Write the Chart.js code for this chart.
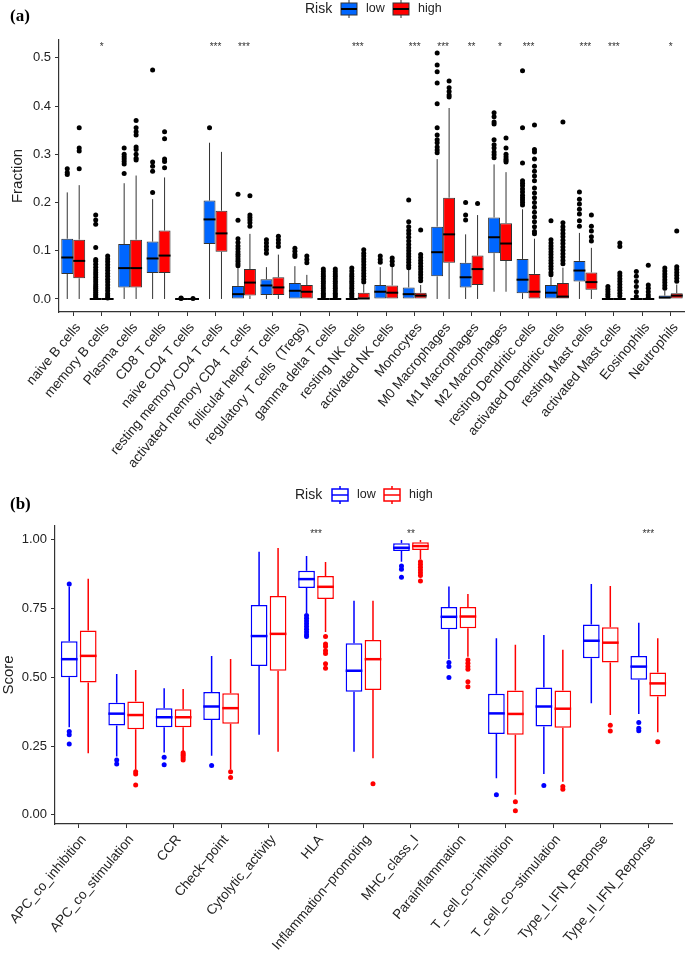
<!DOCTYPE html>
<html>
<head>
<meta charset="utf-8">
<script src="https://cdn.jsdelivr.net/npm/chart.js@4.4.1/dist/chart.umd.min.js"></script>
<style>
  body { margin: 0; background: #fff; width: 685px; height: 954px; position: relative; overflow: hidden; }
  .panel { position: absolute; left: 0; width: 685px; height: 476px; }
</style>
</head>
<body>
<div class="panel" style="top:0"><canvas id="chartA" width="685" height="476"></canvas></div>
<div class="panel" style="top:478px"><canvas id="chartB" width="685" height="476"></canvas></div>
<script>
// ---------- panel (a): immune cell fractions ----------
const cellTypes = ['naive B cells', 'memory B cells', 'Plasma cells', 'CD8 T cells', 'naive CD4 T cells',
  'resting memory CD4 T cells', 'activated memory CD4  T cells', 'follicular helper T cells',
  'regulatory T cells  (Tregs)', 'gamma delta T cells', 'resting NK cells', 'activated NK cells',
  'Monocytes', 'M0 Macrophages', 'M1 Macrophages', 'M2 Macrophages', 'resting Dendritic cells',
  'activated Dendritic cells', 'resting Mast cells', 'activated Mast cells', 'Eosinophils', 'Neutrophils'];

// [min, q1, median, q3, max]
const cellLow = [
  [0, 0.052, 0.086, 0.125, 0.221], [0, 0, 0, 0, 0], [0, 0.024, 0.064, 0.114, 0.24], [0, 0.054, 0.084, 0.119, 0.207],
  [0, 0, 0, 0, 0], [0, 0.114, 0.165, 0.204, 0.324], [0, 0, 0.010, 0.027, 0.064], [0, 0.008, 0.028, 0.041, 0.066],
  [0, 0, 0.017, 0.033, 0.068], [0, 0, 0, 0, 0], [0, 0, 0, 0, 0], [0, 0, 0.015, 0.029, 0.066],
  [0, 0, 0.010, 0.024, 0.06], [0, 0.047, 0.097, 0.15, 0.29], [0, 0.024, 0.045, 0.075, 0.134], [0.015, 0.095, 0.128, 0.169, 0.279],
  [0, 0.012, 0.04, 0.083, 0.186], [0, 0, 0.013, 0.029, 0.045], [0, 0.036, 0.059, 0.079, 0.137], [0, 0, 0, 0, 0],
  [0, 0, 0, 0, 0], [0, 0, 0.003, 0.007, 0.017]
];
const cellHigh = [
  [0, 0.043, 0.079, 0.123, 0.236], [0, 0, 0, 0, 0], [0, 0.024, 0.064, 0.123, 0.256], [0, 0.054, 0.09, 0.142, 0.252],
  [0, 0, 0, 0, 0], [0, 0.098, 0.136, 0.183, 0.305], [0, 0.007, 0.034, 0.062, 0.135], [0, 0.008, 0.024, 0.045, 0.092],
  [0, 0, 0.015, 0.029, 0.05], [0, 0, 0, 0, 0], [0, 0, 0.001, 0.013, 0.03], [0, 0, 0.013, 0.028, 0.068],
  [0, 0, 0.007, 0.013, 0.029], [0, 0.075, 0.134, 0.21, 0.396], [0, 0.029, 0.062, 0.09, 0.174], [0.015, 0.079, 0.115, 0.157, 0.263],
  [0, 0, 0.015, 0.052, 0.125], [0, 0, 0.005, 0.033, 0.065], [0, 0.019, 0.035, 0.055, 0.106], [0, 0, 0, 0, 0],
  [0, 0, 0, 0, 0], [0, 0, 0.007, 0.012, 0.03]
];
const cellLowOut = [
  [0.27, 0.262, 0.258],
  [0.174, 0.164, 0.155, 0.107, 0.082, 0.078, 0.072, 0.066, 0.06, 0.055, 0.05, 0.045, 0.04, 0.035, 0.03, 0.026, 0.022, 0.018, 0.014, 0.01, 0.006, 0.003],
  [0.313, 0.30, 0.295, 0.29, 0.285, 0.28, 0.26],
  [0.475, 0.284, 0.275, 0.265, 0.221],
  [0.001, 0.002],
  [0.355],
  [0.217, 0.163, 0.125, 0.117, 0.11, 0.104, 0.098, 0.093, 0.088, 0.083, 0.078, 0.073, 0.069],
  [0.123, 0.116, 0.109, 0.102, 0.095],
  [0.105, 0.099, 0.092, 0.088],
  [0.062, 0.057, 0.052, 0.047, 0.042, 0.037, 0.032, 0.027, 0.022, 0.017, 0.012, 0.008, 0.004],
  [0.064, 0.058, 0.052, 0.047, 0.042, 0.037, 0.032, 0.027, 0.022, 0.017, 0.012, 0.008, 0.004],
  [0.089, 0.082, 0.076],
  [0.205, 0.16, 0.15, 0.142, 0.135, 0.128, 0.12, 0.113, 0.106, 0.1, 0.094, 0.088, 0.082, 0.076, 0.07, 0.065],
  [0.51, 0.485, 0.471, 0.448, 0.405, 0.355, 0.34, 0.33, 0.324, 0.315, 0.309, 0.303],
  [0.2, 0.174, 0.164],
  [0.386, 0.378, 0.367, 0.363, 0.33, 0.32, 0.313, 0.305, 0.299, 0.293],
  [0.473, 0.355, 0.282, 0.245, 0.24, 0.235, 0.228, 0.222, 0.215, 0.21, 0.205, 0.2, 0.195],
  [0.162, 0.123, 0.116, 0.11, 0.104, 0.098, 0.092, 0.086, 0.08, 0.074, 0.068, 0.062, 0.055, 0.05],
  [0.222, 0.207, 0.197, 0.186, 0.176, 0.162, 0.151],
  [0.026, 0.02, 0.015, 0.01, 0.005],
  [0.057, 0.047, 0.036, 0.026, 0.015, 0.005],
  [0.064, 0.058, 0.052, 0.046, 0.04, 0.034, 0.028, 0.022]
];
const cellHighOut = [
  [0.355, 0.313, 0.307, 0.27],
  [0.089, 0.083, 0.077, 0.071, 0.065, 0.059, 0.053, 0.047, 0.041, 0.035, 0.029, 0.023, 0.017, 0.011, 0.006, 0.002],
  [0.37, 0.355, 0.347, 0.34, 0.315, 0.31, 0.30, 0.292, 0.288],
  [0.347, 0.332, 0.29, 0.285, 0.272],
  [0.001],
  [],
  [0.214, 0.174, 0.169, 0.164, 0.158, 0.151],
  [0.13, 0.123, 0.116, 0.109],
  [0.089, 0.082, 0.075],
  [0.062, 0.057, 0.052, 0.047, 0.042, 0.037, 0.032, 0.027, 0.022, 0.017, 0.012, 0.008, 0.004],
  [0.102, 0.095, 0.089, 0.083, 0.077, 0.071, 0.065, 0.059, 0.053, 0.047, 0.041, 0.035],
  [0.085, 0.078, 0.071],
  [0.143, 0.092, 0.086, 0.08, 0.074, 0.068, 0.062, 0.056, 0.05, 0.044, 0.038],
  [0.452, 0.438, 0.43, 0.423, 0.419],
  [0.198],
  [0.334, 0.313, 0.3, 0.295, 0.29, 0.287, 0.284],
  [0.361, 0.31, 0.305, 0.29, 0.275, 0.265, 0.255, 0.245, 0.23, 0.22, 0.21, 0.2, 0.19, 0.18, 0.17, 0.16, 0.15, 0.14, 0.135],
  [0.367, 0.158, 0.15, 0.143, 0.136, 0.129, 0.122, 0.115, 0.108, 0.101, 0.094, 0.087, 0.08, 0.073],
  [0.174, 0.151, 0.141, 0.129, 0.12],
  [0.116, 0.109, 0.054, 0.048, 0.042, 0.036, 0.03, 0.024, 0.018, 0.012, 0.006],
  [0.07, 0.029, 0.022, 0.015, 0.008, 0.003],
  [0.141, 0.067, 0.061, 0.055, 0.049, 0.043, 0.037]
];
const cellStars = ['', '*', '', '', '', '***', '***', '', '', '', '***', '', '***', '***', '**', '*', '***', '', '***', '***', '', '*'];
const fractionTicks = [0, 0.1, 0.2, 0.3, 0.4, 0.5];

// ---------- panel (b): immune function scores ----------
const functionNames = ['APC_co_inhibition', 'APC_co_stimulation', 'CCR', 'Check\u2212point', 'Cytolytic_activity', 'HLA',
  'Inflammation\u2212promoting', 'MHC_class_I', 'Parainflammation', 'T_cell_co\u2212inhibition',
  'T_cell_co\u2212stimulation', 'Type_I_IFN_Reponse', 'Type_II_IFN_Reponse'];
const scoreLow = [
  [0.319, 0.5, 0.566, 0.631, 0.83], [0.212, 0.325, 0.368, 0.408, 0.512], [0.227, 0.319, 0.355, 0.388, 0.46],
  [0.215, 0.345, 0.394, 0.447, 0.578], [0.291, 0.541, 0.65, 0.763, 0.956], [0.734, 0.825, 0.857, 0.887, 0.941],
  [0.23, 0.448, 0.524, 0.624, 0.778], [0.92, 0.959, 0.971, 0.987, 0.999], [0.566, 0.675, 0.72, 0.756, 0.83],
  [0.133, 0.294, 0.369, 0.44, 0.642], [0.149, 0.321, 0.394, 0.463, 0.654], [0.406, 0.569, 0.633, 0.692, 0.839],
  [0.367, 0.491, 0.539, 0.578, 0.698]
];
const scoreHigh = [
  [0.224, 0.481, 0.578, 0.67, 0.858], [0.164, 0.311, 0.363, 0.412, 0.527], [0.23, 0.319, 0.355, 0.384, 0.458],
  [0.166, 0.331, 0.388, 0.442, 0.567], [0.23, 0.524, 0.658, 0.796, 0.97], [0.665, 0.785, 0.829, 0.868, 0.919],
  [0.206, 0.454, 0.566, 0.636, 0.778], [0.929, 0.963, 0.977, 0.991, 0.999], [0.575, 0.678, 0.721, 0.756, 0.803],
  [0.073, 0.291, 0.367, 0.452, 0.618], [0.121, 0.317, 0.386, 0.452, 0.6], [0.363, 0.554, 0.626, 0.682, 0.832],
  [0.3, 0.43, 0.478, 0.518, 0.642]
];
const scoreLowOut = [
  [0.839, 0.303, 0.291, 0.258], [0.2, 0.185], [0.21, 0.182], [0.18], [],
  [0.725, 0.715, 0.705, 0.695, 0.685, 0.675, 0.665, 0.655, 0.648], [], [0.905, 0.893, 0.864],
  [0.554, 0.539, 0.499], [0.073], [0.107], [], [0.336, 0.315, 0.306]
];
const scoreHighOut = [
  [], [0.157, 0.149, 0.109], [0.226, 0.22, 0.214, 0.207, 0.2], [0.157, 0.136], [],
  [0.648, 0.621, 0.612, 0.597, 0.587, 0.549, 0.533], [0.113], [0.92, 0.91, 0.9, 0.89, 0.88, 0.87, 0.85],
  [0.563, 0.551, 0.539, 0.529, 0.484, 0.466], [0.048, 0.015], [0.103, 0.093], [0.326, 0.305], [0.266]
];
const scoreStars = ['', '', '', '', '', '***', '', '**', '', '', '', '', '***'];
const scoreTicks = [0, 0.25, 0.5, 0.75, 1.0];

Chart.defaults.font.family = '"Liberation Sans", Arial, sans-serif';
Chart.defaults.color = '#222';

// whiskers, medians and outlier dots, drawn on the bar positions
const boxParts = {
  id: 'boxParts',
  afterDatasetsDraw(chart, args, opts) {
    const ctx = chart.ctx;
    const y = chart.scales.y;
    ctx.save();
    opts.stats.forEach((statSet, d) => {
      const meta = chart.getDatasetMeta(d);
      meta.data.forEach((bar, i) => {
        const s = statSet[i];
        const x = bar.x;
        const half = bar.width / 2;
        ctx.strokeStyle = opts.whiskerColor[d];
        ctx.lineWidth = opts.whiskerWidth;
        ctx.beginPath();
        ctx.moveTo(x, y.getPixelForValue(s[3]));
        ctx.lineTo(x, y.getPixelForValue(s[4]));
        ctx.moveTo(x, y.getPixelForValue(s[1]));
        ctx.lineTo(x, y.getPixelForValue(s[0]));
        ctx.stroke();
        const ym = y.getPixelForValue(s[2]);
        ctx.strokeStyle = opts.medianColor[d];
        ctx.lineWidth = opts.medianWidth;
        ctx.beginPath();
        ctx.moveTo(x - half, ym);
        ctx.lineTo(x + half, ym);
        ctx.stroke();
        ctx.fillStyle = opts.pointColor[d];
        opts.outliers[d][i].forEach(v => {
          ctx.beginPath();
          ctx.arc(x, y.getPixelForValue(v), opts.pointRadius, 0, Math.PI * 2);
          ctx.fill();
        });
      });
    });
    ctx.restore();
  }
};

// panel letter, "Risk" legend and significance stars
const decor = {
  id: 'decor',
  afterDraw(chart, args, o) {
    const ctx = chart.ctx;
    ctx.save();
    ctx.fillStyle = '#000';
    ctx.font = 'bold 17px "Liberation Serif", "Times New Roman", serif';
    ctx.textBaseline = 'middle';
    ctx.fillText(o.letter, 10, o.letterY);

    ctx.fillStyle = '#222';
    ctx.font = '14px "Liberation Sans", Arial, sans-serif';
    ctx.fillText('Risk', o.legendX, o.legendY);
    ctx.font = '12.5px "Liberation Sans", Arial, sans-serif';
    o.keys.forEach((k, n) => {
      const kx = o.keyX[n], cy = o.legendY;
      ctx.fillStyle = k.fill;
      ctx.fillRect(kx, cy - 6, 16, 12);
      ctx.strokeStyle = k.line;
      ctx.lineWidth = o.keyLine;
      ctx.strokeRect(kx, cy - 6, 16, 12);
      ctx.beginPath();
      ctx.moveTo(kx + 8, cy - 6); ctx.lineTo(kx + 8, cy - 9);
      ctx.moveTo(kx + 8, cy + 6); ctx.lineTo(kx + 8, cy + 9);
      ctx.stroke();
      ctx.strokeStyle = k.median;
      ctx.lineWidth = o.keyMedian;
      ctx.beginPath();
      ctx.moveTo(kx, cy); ctx.lineTo(kx + 16, cy);
      ctx.stroke();
      ctx.fillStyle = '#222';
      ctx.fillText(k.label, kx + 25, cy);
    });

    const xs = chart.scales.x, ys = chart.scales.y;
    ctx.font = '10px "Liberation Sans", Arial, sans-serif';
    ctx.textAlign = 'center';
    ctx.textBaseline = 'middle';
    ctx.fillStyle = '#333';
    o.stars.forEach((st, i) => {
      if (st) ctx.fillText(st, xs.getPixelForValue(i), ys.getPixelForValue(o.starValue) + 2);
    });
    ctx.restore();
  }
};

function axisOptions(tickValues, digits, title, titlePad, yMin, yMax, yWidth, xHeight, xFont) {
  return {
    x: {
      grid: { display: true, drawOnChartArea: false, drawTicks: true, tickLength: 4, offset: false, color: '#333' },
      border: { display: true, color: '#333', width: 1.2 },
      ticks: { autoSkip: false, minRotation: 50, maxRotation: 50, font: { size: xFont }, color: '#222',
        padding: 4, labelOffset: 5 },
      afterFit(scale) { scale.height = xHeight; scale.paddingLeft = 0; scale.paddingRight = 0; }
    },
    y: {
      min: yMin, max: yMax,
      grid: { display: true, drawOnChartArea: false, drawTicks: true, tickLength: 4, color: '#333' },
      border: { display: true, color: '#333', width: 1.2 },
      ticks: { font: { size: 13 }, color: '#222', padding: 4, callback: v => Number(v).toFixed(digits) },
      afterBuildTicks(scale) { scale.ticks = tickValues.map(v => ({ value: v })); },
      title: { display: true, text: title, font: { size: 15 }, color: '#222', padding: { top: titlePad, bottom: 0 } },
      afterFit(scale) { scale.width = yWidth; }
    }
  };
}

new Chart(document.getElementById('chartA'), {
  type: 'bar',
  data: {
    labels: cellTypes,
    datasets: [
      { label: 'low', data: cellLow.map(s => [s[1], s[3]]), backgroundColor: '#0066FF', borderColor: '#333',
        borderWidth: 1, borderSkipped: false, categoryPercentage: 0.84, barPercentage: 1 },
      { label: 'high', data: cellHigh.map(s => [s[1], s[3]]), backgroundColor: '#FF0000', borderColor: '#333',
        borderWidth: 1, borderSkipped: false, categoryPercentage: 0.84, barPercentage: 1 }
    ]
  },
  options: {
    responsive: false,
    animation: false,
    layout: { padding: { top: 40, right: 0, left: 0, bottom: 0 } },
    scales: axisOptions(fractionTicks, 1, 'Fraction', 9, -0.027, 0.537, 59, 164, 13.5),
    plugins: {
      legend: { display: false },
      tooltip: { enabled: false },
      boxParts: {
        stats: [cellLow, cellHigh], outliers: [cellLowOut, cellHighOut],
        whiskerColor: ['#333', '#333'], medianColor: ['#000', '#000'], pointColor: ['#000', '#000'],
        whiskerWidth: 1, medianWidth: 2, pointRadius: 2.5
      },
      decor: {
        letter: '(a)', letterY: 17, legendX: 305, legendY: 9, keyX: [341, 393], keyLine: 1, keyMedian: 2,
        keys: [{ fill: '#0066FF', line: '#333', median: '#000', label: 'low' },
               { fill: '#FF0000', line: '#333', median: '#000', label: 'high' }],
        stars: cellStars, starValue: 0.527
      }
    }
  },
  plugins: [boxParts, decor]
});

new Chart(document.getElementById('chartB'), {
  type: 'bar',
  data: {
    labels: functionNames,
    datasets: [
      { label: 'low', data: scoreLow.map(s => [s[1], s[3]]), backgroundColor: '#fff', borderColor: '#0000FF',
        borderWidth: 1.5, borderSkipped: false, categoryPercentage: 0.8, barPercentage: 0.88 },
      { label: 'high', data: scoreHigh.map(s => [s[1], s[3]]), backgroundColor: '#fff', borderColor: '#FF0000',
        borderWidth: 1.5, borderSkipped: false, categoryPercentage: 0.8, barPercentage: 0.88 }
    ]
  },
  options: {
    responsive: false,
    animation: false,
    layout: { padding: { top: 48, right: 13, left: 0, bottom: 0 } },
    scales: axisOptions(scoreTicks, 2, 'Score', 0, -0.033, 1.05, 55, 130, 13.5),
    plugins: {
      legend: { display: false },
      tooltip: { enabled: false },
      boxParts: {
        stats: [scoreLow, scoreHigh], outliers: [scoreLowOut, scoreHighOut],
        whiskerColor: ['#0000FF', '#FF0000'], medianColor: ['#0000FF', '#FF0000'], pointColor: ['#0000FF', '#FF0000'],
        whiskerWidth: 1.5, medianWidth: 2.5, pointRadius: 2.5
      },
      decor: {
        letter: '(b)', letterY: 27, legendX: 295, legendY: 17, keyX: [332, 384], keyLine: 1.5, keyMedian: 1.5,
        keys: [{ fill: '#fff', line: '#0000FF', median: '#0000FF', label: 'low' },
               { fill: '#fff', line: '#FF0000', median: '#FF0000', label: 'high' }],
        stars: scoreStars, starValue: 1.028
      }
    }
  },
  plugins: [boxParts, decor]
});
</script>
</body>
</html>
